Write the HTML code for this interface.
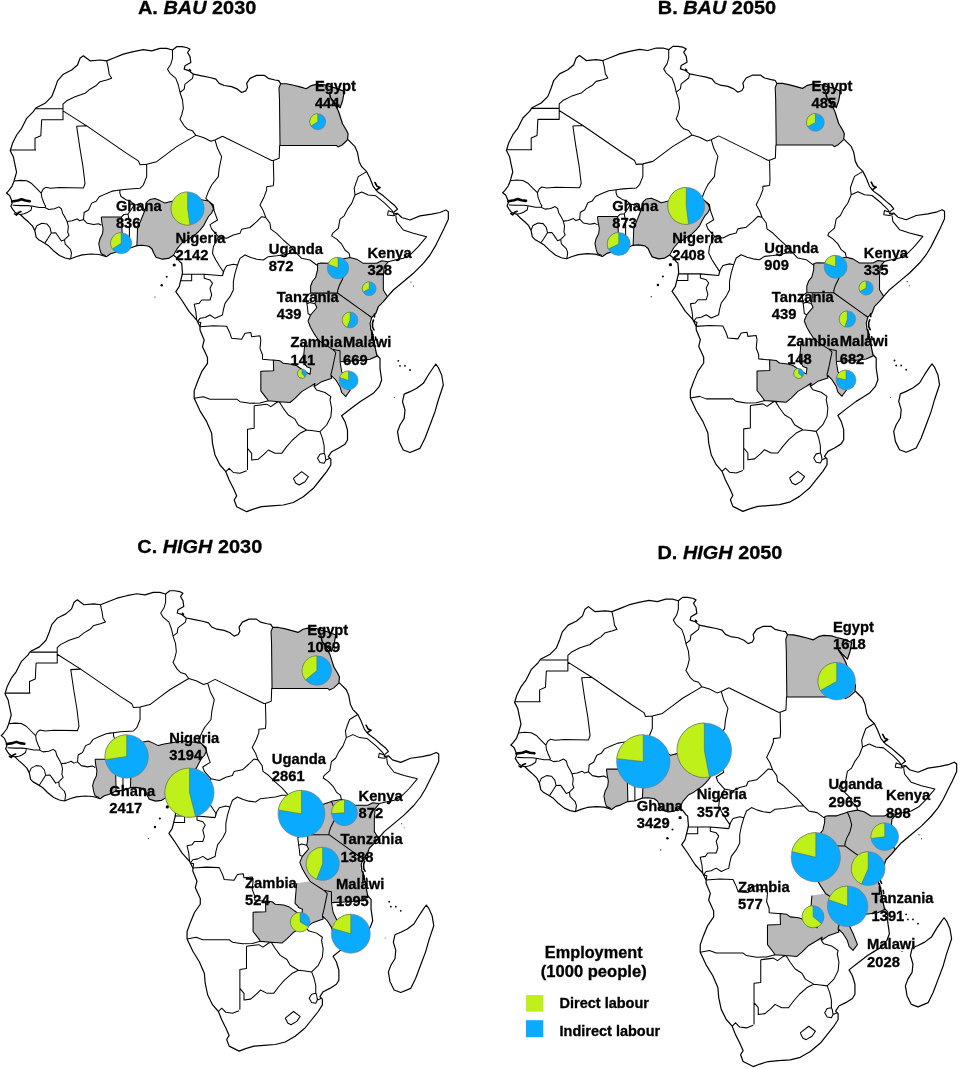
<!DOCTYPE html><html><head><meta charset="utf-8"><title>Employment maps</title>
<style>html,body{margin:0;padding:0;background:#fff}svg{display:block}text{font-family:"Liberation Sans",Arial,sans-serif;font-weight:bold;fill:#000;stroke:#000;stroke-width:0.3px}</style></head><body>
<svg width="960" height="1069" viewBox="0 0 960 1069">
<rect width="960" height="1069" fill="#fff"/>
<defs><g id="afr">
<path d="M160 48.33 L151.67 50.83 L143.33 49.67 L133.33 51.67 L123.33 54.17 L115 57.5 L106.67 60.83 L100 60 L90 60.83 L83.33 55.83 L80 58.33 L77.5 65 L71.67 70 L63.33 74.17 L57.5 80.83 L55 88.33 L51.67 96.67 L45 103.33 L35.83 108 L33.33 111.67 L26.67 118.33 L21.67 128.33 L16.67 135 L12.5 143.33 L10.25 150.71 L13.41 157.02 L14.67 163.33 L16.57 172.17 L14.04 181.01 L12.15 186.06 L8.36 191.11 L6.46 193.01 L9.62 195.53 L11.52 199.95 L12.15 203.11 L10.88 206.26 L12.78 209.42 L14.67 211.94 L17.2 213.59 L20.35 214.47 L24.14 218.26 L28.56 222.05 L32.35 225.83 L34.87 230.88 L36.14 237.2 L38.66 239.72 L43.08 242.25 L48.13 245.4 L53.18 250.45 L59.49 255.51 L65.18 258.03 L70.23 259.04 L75.91 256.77 L82.22 254.87 L91.06 253.99 L98.64 254.49 L101.79 255.25 L106.21 256.77 L110.6 253.75 L115 252.5 L118 251 L122.5 249 L129.4 248.3 L131.7 247.5 L136.9 245.6 L142.5 245.25 L148.75 246.25 L151.9 248.75 L153.6 252.8 L156 257.2 L162.3 259.2 L168.5 258.4 L173.5 255.3 L177 258 L180 262 L181.7 263.3 L182.5 273.33 L180.83 280 L179.17 286.67 L175.83 291.67 L181.67 300 L189.17 311.67 L196.67 320 L200 326.67 L200 330 L204.17 340 L202.5 346.67 L207.5 357.5 L207.5 363.33 L201.67 371.67 L197.5 381.67 L194.17 390.83 L194.17 398.33 L200 410.83 L206.67 421.67 L211.67 433.33 L212.5 443.33 L215 455 L220 465 L225.83 471.67 L229.17 480 L233.33 488.33 L236.67 495.83 L234.17 500 L236.67 506.67 L241.67 509.17 L246.67 511.67 L253.33 509.17 L261.67 506.67 L271.67 505.83 L283.33 505 L293.33 502.5 L303.33 496.67 L313.33 488.33 L320 480 L326.67 471.67 L330.83 465 L330.83 459.17 L328.33 456.67 L331.67 451.67 L338.33 448.33 L345 444.17 L347.5 440 L347.5 430 L345 421.67 L341.67 415.83 L350 409.17 L360 401.67 L366.67 397.5 L373.33 393.33 L379.17 386.67 L381.67 380 L380 368.33 L380 358.33 L377.5 355.83 L376.67 355 L375 346.67 L373.33 336.67 L371.67 330 L371.67 340 L373.33 335 L370.83 330 L370 323.33 L371.67 317.5 L375.83 313.33 L378.33 306.67 L383.33 301.67 L387.5 296.67 L393.33 290 L403.33 281.67 L413.33 273.33 L423.33 263.33 L430 255 L435 246.67 L440 236.67 L444.17 228.33 L448.33 219.17 L448.33 211.67 L445.83 210 L440 212.5 L431.67 214.17 L420 215.83 L410 220 L401.67 217.5 L397.5 213.33 L393.33 214.17 L394.17 211.67 L397.5 209.17 L395 205.83 L390 201.67 L383.33 195.83 L377.5 191.67 L373.33 186.67 L373.33 186.67 L370 178.33 L366.67 171.67 L361.67 166.67 L359.17 161.67 L357.5 152.5 L355 146.67 L347.5 139.17 L348.1 133.75 L346.25 130 L342.5 123.75 L338.5 111.2 L336 106.2 L331 98.8 L329.4 92 L330.2 97.2 L334.4 102.1 L340.1 107.9 L342.6 100.5 L344.3 91.4 L336 88.1 L329.4 86.4 L324.4 84.8 L316.25 84.4 L311.25 85.6 L306.25 88.75 L300 86.9 L292.5 85 L286.25 83.75 L280.6 83.6 L278.75 80.6 L275 80 L268.33 78.33 L264.17 75.33 L256.67 75.33 L250 78.33 L246.67 83.33 L247.5 87.5 L245.83 90.83 L241.67 92.5 L237.5 89.17 L231.67 86.67 L224.17 85.5 L219.17 83.33 L215.83 79.17 L210 77.5 L201.67 75.83 L193.33 74.17 L189.17 70.83 L184.17 69.17 L185 65.83 L190.83 62.5 L190 56.67 L187.5 52.5 L190 49.17 L186.67 47.5 L181.67 46.67 L176.67 46.67 L172.5 50 L166.67 48.33 L160 48.33Z" fill="#fff" stroke="none"/>
<path d="M280.6 83.75 L286 83.75 L292.5 85 L300 86.9 L306 88.75 L311 85.6 L316 84.4 L324.4 84.8 L329.4 86.4 L336 88.1 L344.3 91.4 L342.6 100.5 L340.1 107.9 L334.4 102.1 L330.2 97.2 L329.4 92 L331 98.8 L336 106.2 L338.5 111.2 L342.5 123.75 L346.25 130 L348.1 133.75 L346.9 138 L347.5 140 L342 145 L338 147 L336.5 145.4 L280 145.4 L279.5 100 L279 88Z" fill="#b9b9b9" stroke="none"/>
<path d="M101.25 216.9 L101.9 222.5 L103.1 228.75 L102.5 233.75 L100 238.75 L98.75 243.75 L100 250 L101.25 253.75 L105.6 255.8 L110.6 253.75 L115 252.5 L118 251 L122.5 249 L122 230 L121.5 216.9Z" fill="#b9b9b9" stroke="none"/>
<path d="M136.9 245.6 L137.25 237.5 L137.5 228.75 L140 222.5 L142.5 216.25 L145 210 L146.9 201.9 L150 199.4 L155 198.5 L160 200.6 L165 203.1 L171 201.5 L180 200 L190 198.5 L200 199.5 L208.5 200.9 L212.3 205.3 L213.5 209 L211.7 212.8 L208.5 216.5 L206 220.9 L203.5 225.9 L199.8 230.3 L196 234 L192.3 236.5 L187.3 240 L182.4 242.5 L177.4 248.3 L173.5 255.3 L168.5 258.4 L162.3 259.2 L156 257.2 L153.6 252.8 L151.9 248.75 L148.75 246.25 L142.5 245.25 L136.9 245.6Z" fill="#b9b9b9" stroke="none"/>
<path d="M317.5 263.75 L321 263 L329.4 263.2 L339.3 259.9 L340 259.4 L342.6 265.6 L344.3 272.2 L342.6 278.9 L339.3 285.5 L337.7 290.4 L337.5 293 L316 293.3 L310.6 293.1 L310.62 286.25 L312.5 281.25 L315.62 277.5 L317.5 270 L317.5 263.75Z" fill="#b9b9b9" stroke="none"/>
<path d="M340 259.4 L350 257.5 L356.67 259.17 L363.33 263.33 L376.67 263.33 L381.67 260.83 L388.33 261.67 L384.17 266.67 L383.33 276.67 L383.33 290 L387.5 296.67 L383.33 301.67 L378.33 306.67 L375.83 313.33 L371.67 317.5 L360 309.17 L337.5 293 L337.7 290.4 L339.3 285.5 L342.6 278.9 L344.3 272.2 L342.6 265.6 L340 259.4Z" fill="#b9b9b9" stroke="none"/>
<path d="M316 293.3 L337.5 293 L360 309.17 L371.67 317.5 L369.38 321.25 L369.38 327.5 L372.5 332.5 L373.12 338.75 L375 346.25 L376.88 352.5 L379.38 356.88 L370 359.2 L358.3 360.8 L340 361.7 L340 350.8 L335.8 350 L332.5 349.2 L331.8 348.9 L318.3 340.2 L317.5 338.75 L313.75 333.1 L310.6 327.5 L308 321 L310.6 315 L313.75 311.25 L316.9 307.5 L315 303.75 L316 298 L316 293.3Z" fill="#b9b9b9" stroke="none"/>
<path d="M273.3 360 L280 360.8 L283.3 363.3 L291.7 364.2 L296.7 365.8 L301.7 369.2 L305 371.7 L310 374.2 L310.8 368.3 L306.7 366.7 L306.5 365.8 L303.2 362.4 L304 352.3 L304.9 342.2 L318.3 340.2 L331.8 348.9 L332.5 349.2 L335.8 352.5 L334.2 360 L332.5 368.3 L330.8 375 L331.7 378.3 L321.7 381.7 L314.2 386.7 L310 386.7 L301.7 391.7 L295 398.3 L290 402.5 L279.2 401.7 L268.3 400.8 L266.7 398.3 L260.8 390.8 L260.8 371.3 L273.7 370.8Z" fill="#b9b9b9" stroke="none"/>
<path d="M332.5 349.2 L335.8 352.5 L334.2 360 L332.5 368.3 L330.8 375 L335.8 380 L340 386.7 L341.7 392.5 L345.8 396.7 L346.7 395 L350 390.8 L345.8 380 L341.7 371.7 L339.2 361.7 L340 350.8 L335.8 350Z" fill="#b9b9b9" stroke="none"/>
<path d="M106.67 60.83 L108.33 68.33 L109.17 74.17 L111.67 78.33 L106.67 80 L100 81.67 L95.83 85.83 L90 89.17 L85 93.33 L75 96.67 L66.67 100.83 L63 104.17 L63 108.67 M35.83 108.67 L63 108.67 M63 108.67 L63 119.67 L41.67 119.67 L40.83 135.83 L35 138.33 L35 149.17 L35.51 150.08 L10.25 150.08 M63 110.83 L86.67 125.83 M86.67 125.83 L76.67 126.33 L79.7 146.92 L82.85 165.86 L85 183.54 L83.48 187.95 L59.49 187.58 L50.66 188.33 L45.61 187.32 L43.08 189.22 L41.19 193.01 M86.67 125.83 L126.67 153.33 L138.33 160.83 L140 164.67 L146.67 164.17 M146.67 164.17 L146.67 176.67 L143.33 185 L143.33 185 L140 188.33 L126.67 189.17 L120 190 M146.67 164.17 L156.67 161.67 L160 159.17 L166.67 154.17 L176.67 146.67 L195.83 135.33 M14.04 181.01 L20.35 180.38 L26.67 180.76 L31.72 183.54 L36.77 188.59 L41.19 193.01 M41.19 193.01 L41.82 197.42 L43.71 202.47 L45.61 206.26 L44.97 207.53 M44.97 207.53 L39.29 207.53 L32.98 206.26 L27.93 205.63 L20.35 205.63 L12.78 205.25 M31.72 206.52 L31.09 210.05 L27.3 212.58 L24.14 213.84 L20.35 214.47 M44.97 207.53 L48.76 209.42 L54.44 208.79 L58.86 206.89 L61.39 208.79 L62.65 213.21 L65.18 217.63 L67.07 221.41 M34.87 230.25 L36.77 225.83 L41.82 223.31 L46.87 223.94 L50.03 227.73 L51.29 233.03 L47.5 239.09 L44.97 242.88 M51.29 233.03 L55.71 232.78 L58.86 237.2 L61.39 240.98 L64.55 239.72 M67.07 221.41 L68.33 226.46 L67.7 232.15 L68.96 235.3 L65.81 238.46 L64.55 239.72 M64.55 239.72 L65.18 244.14 L70.23 249.19 L71.49 252.98 L70.61 259.04 M67.07 221.41 L72.12 220.78 L77.17 218.89 L79.7 220.78 L83.48 219.52 M83.48 219.52 L84.12 212.58 L88.54 210.05 L91.69 203.11 L96.11 201.21 L99.27 196.79 L106.21 193.64 L112.53 191.11 L116.31 190.48 L120 190 M83.48 219.52 L87.27 223.31 L93.59 224.57 L98.64 223.69 L101.41 225.2 M120 190 L119.8 192.8 L121 196.5 L126 199.7 L131 201.5 L134 205 M101.25 216.9 L121.5 216.9 L124 214.5 L128 214 L131 210 L134 205 M134 205 L139 204.5 L143 208 L145 210 M121.5 216.9 L122 230 L122.5 249 M128 214 L129.4 222 L129.4 248.3 M172.5 50 L172.5 58.33 L170.83 64.17 L167.5 69.17 L170 73.33 L175.83 78.33 L178.33 85 L180 92.5 M193.33 74.17 L192.5 78.33 L185 84.17 L184.17 89.17 L180 92.5 M180 92.5 L182.5 100 L183.33 108.33 L181.67 115 L180 119.17 L184.17 125.83 L187.5 129.17 L192.5 130.83 L195.83 135.33 M195.83 135.33 L203.33 137.5 L210.83 141.33 L215 140 L222.5 136.17 M222.5 136.17 L271.67 160.5 L273.33 160.5 L279.17 158.33 L279.67 145 M280.6 83.75 L279 88 L279.5 100 L280 145.4 M280 145.4 L336.5 145.4 L338 147 L342 145 L347.5 140 M215 140 L217.5 148.33 L221.67 156.67 L219.17 168.33 L218.33 176.67 L211.67 185 L208.33 191.67 L205.83 198.33 L208.33 200.83 M273.33 160.5 L273.83 180 L273.33 185.83 L266.67 186.67 L266.67 190 L264.17 196.67 L260 205 L263.33 210.83 L265.83 217.5 M366.67 171.67 L358.33 176.67 L355.83 183.33 L354.17 188.33 L355 195 M208.33 200.83 L213.33 205 L214.17 210.83 L217.5 220 L210 224.67 L211.67 229.17 L218.33 236.67 M218.33 236.67 L226.67 238.33 L233.33 235 L240 233.33 L241.67 229.17 L250 227.5 L256.67 221.67 L261.67 216.67 L265.83 217.5 M265.83 217.5 L270 223.33 L270.83 229.17 L276.67 233.33 L283.33 240 L290 245.83 L296.67 253.33 L301.67 258.33 L310 260 L316.67 265 L318.33 265.33 M218.33 236.67 L213.33 246.67 L212.5 253.33 L215.83 260 L220 266.67 L223.33 271.67 L222.5 275.83 M181.67 274.17 L191.67 274.17 L204.17 274.17 L222.5 275.83 M191.67 274.17 L191.67 280.83 L180.83 280.83 M222.5 275.83 L224.17 270 L226.67 265.83 L233.33 264.17 L237.5 265 L240 258.33 L245 255 L250.83 257.5 L256.67 259.17 L263.33 260 L268.33 256.67 L276.67 255.83 L283.33 255 L290 253.33 L296.67 253.33 M237.5 265 L235 273.33 L233.33 281.67 L233.33 290 L230 296.67 L225 303.33 L223.33 310 L222.5 315 L215 318.33 L210 315 L205 317.5 L200 318.33 L197.5 321.67 M204.17 274.17 L204.17 278.33 L210 280 L212.5 283.33 L210 288.33 L211.67 295 L210 300 L201.67 300 L199.17 303.33 L194.17 304.17 L195.83 311.67 L196.67 320 M200 326.67 L213.33 325.83 L226.67 326.33 L230 333.33 L231.67 338.33 L241.67 339.17 L245 333.33 L250.83 332.5 L251.67 336.67 L260 335.83 L260.83 340 L260 348.33 L262.5 355 L262.5 359.17 L270.83 360 L273.33 360 M197.5 321.67 L200.83 322.5 L200 326.67 M355 195 L361.67 192 L368.33 195 L375.83 195.83 L385 203.33 L391.67 210 L393.33 212.5 M355 195 L351.67 203.33 L347.5 209.17 L344.17 215.83 L340 219.17 L338.33 228.33 L332.5 233.33 L331.67 235.83 L336.67 239.17 L341.67 244.17 L345 250 L349.17 253.33 L350 257.5 M393.33 212.5 L388.33 210.83 L387.5 215 L393.33 215.83 L397.5 214.17 M395.83 215.83 L396.67 221.67 L403.33 230 L413.33 233.33 L426.67 236.67 L418.33 246.67 L410.83 254.17 L403.33 258.33 L395 260 L388.33 261.67 M350 257.5 L356.67 259.17 L363.33 263.33 L376.67 263.33 L381.67 260.83 L388.33 261.67 M388.33 261.67 L384.17 266.67 L383.33 276.67 L383.33 290 L387.5 296.67 M350 257.5 L340 259.4 L340 259.4 L339.3 259.9 L329.4 263.2 L321 263 L317.5 263.75 M340 259.4 L342.6 265.6 L344.3 272.2 L342.6 278.9 L339.3 285.5 L337.7 290.4 L337.5 293 M337.5 293 L360 309.17 L371.67 317.5 M273.33 360 L273.67 370.83 L260.83 371.33 L260.83 390.83 L266.67 398.33 L268.33 400.83 M194.17 398.33 L203.33 396.67 L210 399.17 L236.67 399.17 L240 401.67 L250 403.33 L260 403 L268.33 400.83 L279.17 401.67 M254.17 405.83 L266.67 404.17 L270.83 406.67 L276.67 402.5 L279.17 401.67 M254.17 405.83 L254.17 428.33 L247.5 429.17 L247.5 446.67 L247.5 470 M225.83 471.67 L229.17 468.33 L233.33 472.5 L240 473.33 L246.67 470.83 M247.5 448.33 L251.67 453.33 L251.67 460 L258.33 459.17 L264.17 454.17 L268.33 450 L275 453.33 L281.67 453.33 L286.67 446.67 L292.5 440 L300 433.33 L306.67 430 M279.17 401.67 L283.33 408.33 L288.33 415 L295 419.17 L298.33 425 L306.67 430 M306.67 430 L313.33 430.83 L320 431.67 M320 431.67 L326.67 425 L330.83 416.67 L331.67 408.33 L330 400 L330.83 396.67 L325 392.5 L316.67 390 L314.17 386.67 M320 431.67 L322.5 438.33 L324.17 445.83 L324.17 453.33 M324.17 453.33 L320 454.17 L317.5 458.33 L320 462.5 L324.17 463.33 L325.83 460 L325 455 L324.17 453.33 M325.83 460 L330 458.33 M293.33 478.33 L301.67 471.67 L308.33 476.67 L305 481.67 L299.17 485 L295.83 483.33 L293.33 478.33 M279.17 401.67 L290 402.5 L295 398.33 L301.67 391.67 L310 386.67 L315 383.33 L314.17 386.67 M314.17 386.67 L321.67 381.67 L331.67 378.33 L330.83 375 M273.3 360 L280 360.8 L283.3 363.3 L291.7 364.2 L296.7 365.8 L301.7 369.2 L305 371.7 L310 374.2 L310.8 368.3 L306.7 366.7 L306.5 365.8 L303.2 362.4 L304 352.3 L304.9 342.2 M377.5 355.8 L370 359.2 L358.3 360.8 L340 361.7 M330.8 375 L335.8 380 L340 386.7 L341.7 392.5 L345.8 396.7 M340 361.7 L341.7 371.7 L345.8 380 L350 390.8 L346.7 395 L345.8 396.7 M332.5 349.2 L335.8 352.5 L334.2 360 L332.5 368.3 L330.8 375 M310.6 293.1 L306 296 L306.9 303.75 L307.5 307.5 L308.1 313.75 L310.6 315 M306.9 303.75 L310 302.5 L315 303.75 M308 321 L310.6 327.5 L313.75 333.1 L317.5 338.75 L318.3 340.2 M317.5 263.75 L317.5 270 L315.6 277.5 L312.5 281.25 L310.6 286.25 L310.6 293.1 M340 361.7 L340 350.8 L335.8 350 L332.5 349.2 M310.6 293.1 L337.5 293 M136.9 245.6 L137.25 237.5 L137.5 228.75 L140 222.5 L142.5 216.25 L145 210 L146.9 201.9 M146.9 201.9 L150 199.4 L155 198.5 L160 200.6 L165 203.1 L171 201.5 L180 200 L190 198.5 L200 199.5 L208.5 200.9 M208.5 200.9 L212.3 205.3 L213.5 209 L211.7 212.8 L208.5 216.5 L206 220.9 L203.5 225.9 L199.8 230.3 L196 234 L192.3 236.5 L187.3 240 L182.4 242.5 L177.4 248.3 L173.5 255.3 M101.25 216.9 L101.9 222.5 L103.1 228.75 L102.5 233.75 L100 238.75 L98.75 243.75 L100 250 L101.25 253.75 L105.6 255.8 M316 293.3 L316 298 L315 303.75 L316.9 307.5 L313.75 311.25 L310.6 315 L308 321 M318.3 340.2 L331.8 348.9 L332.5 349.2" fill="none" stroke="#000" stroke-width="1.05" stroke-linejoin="round"/>
<path d="M160 48.33 L151.67 50.83 L143.33 49.67 L133.33 51.67 L123.33 54.17 L115 57.5 L106.67 60.83 L100 60 L90 60.83 L83.33 55.83 L80 58.33 L77.5 65 L71.67 70 L63.33 74.17 L57.5 80.83 L55 88.33 L51.67 96.67 L45 103.33 L35.83 108 L33.33 111.67 L26.67 118.33 L21.67 128.33 L16.67 135 L12.5 143.33 L10.25 150.71 L13.41 157.02 L14.67 163.33 L16.57 172.17 L14.04 181.01 L12.15 186.06 L8.36 191.11 L6.46 193.01 L9.62 195.53 L11.52 199.95 L12.15 203.11 L10.88 206.26 L12.78 209.42 L14.67 211.94 L17.2 213.59 L20.35 214.47 L24.14 218.26 L28.56 222.05 L32.35 225.83 L34.87 230.88 L36.14 237.2 L38.66 239.72 L43.08 242.25 L48.13 245.4 L53.18 250.45 L59.49 255.51 L65.18 258.03 L70.23 259.04 L75.91 256.77 L82.22 254.87 L91.06 253.99 L98.64 254.49 L101.79 255.25 L106.21 256.77 L110.6 253.75 L115 252.5 L118 251 L122.5 249 L129.4 248.3 L131.7 247.5 L136.9 245.6 L142.5 245.25 L148.75 246.25 L151.9 248.75 L153.6 252.8 L156 257.2 L162.3 259.2 L168.5 258.4 L173.5 255.3 L177 258 L180 262 L181.7 263.3 L182.5 273.33 L180.83 280 L179.17 286.67 L175.83 291.67 L181.67 300 L189.17 311.67 L196.67 320 L200 326.67 L200 330 L204.17 340 L202.5 346.67 L207.5 357.5 L207.5 363.33 L201.67 371.67 L197.5 381.67 L194.17 390.83 L194.17 398.33 L200 410.83 L206.67 421.67 L211.67 433.33 L212.5 443.33 L215 455 L220 465 L225.83 471.67 L229.17 480 L233.33 488.33 L236.67 495.83 L234.17 500 L236.67 506.67 L241.67 509.17 L246.67 511.67 L253.33 509.17 L261.67 506.67 L271.67 505.83 L283.33 505 L293.33 502.5 L303.33 496.67 L313.33 488.33 L320 480 L326.67 471.67 L330.83 465 L330.83 459.17 L328.33 456.67 L331.67 451.67 L338.33 448.33 L345 444.17 L347.5 440 L347.5 430 L345 421.67 L341.67 415.83 L350 409.17 L360 401.67 L366.67 397.5 L373.33 393.33 L379.17 386.67 L381.67 380 L380 368.33 L380 358.33 L377.5 355.83 L376.67 355 L375 346.67 L373.33 336.67 L371.67 330 L371.67 340 L373.33 335 L370.83 330 L370 323.33 L371.67 317.5 L375.83 313.33 L378.33 306.67 L383.33 301.67 L387.5 296.67 L393.33 290 L403.33 281.67 L413.33 273.33 L423.33 263.33 L430 255 L435 246.67 L440 236.67 L444.17 228.33 L448.33 219.17 L448.33 211.67 L445.83 210 L440 212.5 L431.67 214.17 L420 215.83 L410 220 L401.67 217.5 L397.5 213.33 L393.33 214.17 L394.17 211.67 L397.5 209.17 L395 205.83 L390 201.67 L383.33 195.83 L377.5 191.67 L373.33 186.67 L373.33 186.67 L370 178.33 L366.67 171.67 L361.67 166.67 L359.17 161.67 L357.5 152.5 L355 146.67 L347.5 139.17 L348.1 133.75 L346.25 130 L342.5 123.75 L338.5 111.2 L336 106.2 L331 98.8 L329.4 92 L330.2 97.2 L334.4 102.1 L340.1 107.9 L342.6 100.5 L344.3 91.4 L336 88.1 L329.4 86.4 L324.4 84.8 L316.25 84.4 L311.25 85.6 L306.25 88.75 L300 86.9 L292.5 85 L286.25 83.75 L280.6 83.6 L278.75 80.6 L275 80 L268.33 78.33 L264.17 75.33 L256.67 75.33 L250 78.33 L246.67 83.33 L247.5 87.5 L245.83 90.83 L241.67 92.5 L237.5 89.17 L231.67 86.67 L224.17 85.5 L219.17 83.33 L215.83 79.17 L210 77.5 L201.67 75.83 L193.33 74.17 L189.17 70.83 L184.17 69.17 L185 65.83 L190.83 62.5 L190 56.67 L187.5 52.5 L190 49.17 L186.67 47.5 L181.67 46.67 L176.67 46.67 L172.5 50 L166.67 48.33 L160 48.33Z M435.83 364.17 L438.33 367.5 L441.67 375 L443.33 385 L440 395 L438.33 400 L435 411.67 L430 425 L425 438.33 L420 448.33 L410 452.5 L403.33 450 L399.17 441.67 L397.5 431.67 L400 425 L404.17 418.33 L405 410 L402.5 401.67 L404.17 394.17 L410 391.67 L416.67 388.33 L423.33 383.33 L428.33 375 L433.33 367.5Z" fill="none" stroke="#000" stroke-width="1.2" stroke-linejoin="round"/>
<circle cx="174.2" cy="265" r="1.6" fill="#000"/>
<circle cx="166.7" cy="276.7" r="1.0" fill="#000"/>
<circle cx="161.7" cy="285.3" r="1.2" fill="#000"/>
<circle cx="155" cy="297" r="0.6" fill="#000"/>
<circle cx="398.3" cy="360.8" r="0.9" fill="#000"/>
<circle cx="400" cy="365.8" r="0.9" fill="#000"/>
<circle cx="405" cy="365.8" r="0.9" fill="#000"/>
<circle cx="410" cy="370" r="0.9" fill="#000"/>
<circle cx="394.2" cy="397.5" r="0.5" fill="#000"/>
<circle cx="411" cy="282" r="0.6" fill="#000"/>
<circle cx="413.5" cy="286" r="0.5" fill="#000"/>
<path d="M14.67 213.84 L16.57 215.1 L18.46 212.58 L20.98 211.57 M375 182.5 L377 186.25 L380 187.5 L376.25 190 M373.5 320 L372.5 323 L372.5 327 L374 330 M374.5 314 L374.5 317 M375.5 337 L376 340 M189.5 69.5 L190.5 70.5" fill="none" stroke="#000" stroke-width="1.6" stroke-linecap="round" stroke-linejoin="round"/>
<path d="M12.15 201.46 L17.83 200.58 L21.62 199.32 L25.4 200.58 L29.82 201.21" fill="none" stroke="#000" stroke-width="2.6" stroke-linecap="round" stroke-linejoin="round"/>
</g></defs>
<use href="#afr" transform="translate(0 0) scale(1)"/>
<use href="#afr" transform="translate(496.2 -0.3) scale(1)"/>
<use href="#afr" transform="translate(-5.15 544.55) scale(0.99)"/>
<use href="#afr" transform="translate(504.3 550.3) scale(1.009)"/>
<circle cx="317.75" cy="121.75" r="8" fill="#0aaaff" stroke="#8a6a6a" stroke-width="0.5"/><path d="M317.75 121.75 L317.75 113.75 A8 8 0 0 0 311.00 126.04Z" fill="#c0f01a" stroke="#444" stroke-width="0.4"/>
<circle cx="187.6" cy="208.5" r="16.6" fill="#0aaaff" stroke="#8a6a6a" stroke-width="0.5"/><path d="M187.6 208.5 L187.6 191.9 A16.6 16.6 0 1 0 189.99 224.93Z" fill="#c0f01a" stroke="#444" stroke-width="0.4"/>
<circle cx="121.25" cy="243.25" r="10.6" fill="#0aaaff" stroke="#8a6a6a" stroke-width="0.5"/><path d="M121.25 243.25 L121.25 232.65 A10.6 10.6 0 0 0 112.30 248.93Z" fill="#c0f01a" stroke="#444" stroke-width="0.4"/>
<circle cx="338" cy="268.1" r="10.75" fill="#0aaaff" stroke="#8a6a6a" stroke-width="0.5"/><path d="M338 268.1 L338 257.35 A10.75 10.75 0 0 0 328.00 264.14Z" fill="#c0f01a" stroke="#444" stroke-width="0.4"/>
<circle cx="369.25" cy="288.75" r="6.9" fill="#0aaaff" stroke="#8a6a6a" stroke-width="0.5"/><path d="M369.25 288.75 L369.25 281.85 A6.9 6.9 0 0 0 363.20 292.07Z" fill="#c0f01a" stroke="#444" stroke-width="0.4"/>
<circle cx="350.1" cy="320" r="7.9" fill="#0aaaff" stroke="#8a6a6a" stroke-width="0.5"/><path d="M350.1 320 L350.1 312.1 A7.9 7.9 0 0 0 347.19 327.35Z" fill="#c0f01a" stroke="#444" stroke-width="0.4"/>
<circle cx="302" cy="373.6" r="4.6" fill="#0aaaff" stroke="#8a6a6a" stroke-width="0.5"/><path d="M302 373.6 L302 369.0 A4.6 4.6 0 1 0 305.15 376.95Z" fill="#c0f01a" stroke="#444" stroke-width="0.4"/>
<circle cx="348.6" cy="380.4" r="9.5" fill="#0aaaff" stroke="#8a6a6a" stroke-width="0.5"/><path d="M348.6 380.4 L348.6 370.9 A9.5 9.5 0 0 0 339.56 377.46Z" fill="#c0f01a" stroke="#444" stroke-width="0.4"/>
<text transform="translate(314.9 90.6) scale(1.032 1)" font-size="14.3">Egypt</text><text transform="translate(314.9 108.1) scale(1.032 1)" font-size="14.3">444</text>
<text transform="translate(115.9 210.6) scale(1.032 1)" font-size="14.3">Ghana</text><text transform="translate(115.9 228.1) scale(1.032 1)" font-size="14.3">836</text>
<text transform="translate(175.55 243.1) scale(1.032 1)" font-size="14.3">Nigeria</text><text transform="translate(175.55 260) scale(1.032 1)" font-size="14.3">2142</text>
<text transform="translate(268.8 253.75) scale(1.032 1)" font-size="14.3">Uganda</text><text transform="translate(268.8 270.75) scale(1.032 1)" font-size="14.3">872</text>
<text transform="translate(367.4 257.5) scale(1.032 1)" font-size="14.3">Kenya</text><text transform="translate(367.4 275) scale(1.032 1)" font-size="14.3">328</text>
<text transform="translate(276.8 302) scale(1.032 1)" font-size="14.3">Tanzania</text><text transform="translate(276.8 319) scale(1.032 1)" font-size="14.3">439</text>
<text transform="translate(290.55 347) scale(1.032 1)" font-size="14.3">Zambia</text><text transform="translate(290.55 364.5) scale(1.032 1)" font-size="14.3">141</text>
<text transform="translate(343.05 347) scale(1.032 1)" font-size="14.3">Malawi</text><text transform="translate(343.05 364.5) scale(1.032 1)" font-size="14.3">669</text>
<text transform="translate(138 13.7) scale(1.053 1)" font-size="18.9">A. <tspan font-style="italic">BAU</tspan> 2030</text>
<circle cx="815.4" cy="122.4" r="8.9" fill="#0aaaff" stroke="#8a6a6a" stroke-width="0.5"/><path d="M815.4 122.4 L815.4 113.5 A8.9 8.9 0 0 0 807.60 126.69Z" fill="#c0f01a" stroke="#444" stroke-width="0.4"/>
<circle cx="686.25" cy="205.9" r="18.5" fill="#0aaaff" stroke="#8a6a6a" stroke-width="0.5"/><path d="M686.25 205.9 L686.25 187.4 A18.5 18.5 0 1 0 688.57 224.25Z" fill="#c0f01a" stroke="#444" stroke-width="0.4"/>
<circle cx="618.75" cy="244" r="11.5" fill="#0aaaff" stroke="#8a6a6a" stroke-width="0.5"/><path d="M618.75 244 L618.75 232.5 A11.5 11.5 0 0 0 608.34 248.90Z" fill="#c0f01a" stroke="#444" stroke-width="0.4"/>
<circle cx="835.6" cy="266.75" r="11.5" fill="#0aaaff" stroke="#8a6a6a" stroke-width="0.5"/><path d="M835.6 266.75 L835.6 255.25 A11.5 11.5 0 0 0 824.66 263.20Z" fill="#c0f01a" stroke="#444" stroke-width="0.4"/>
<circle cx="866.1" cy="288.1" r="7.1" fill="#0aaaff" stroke="#8a6a6a" stroke-width="0.5"/><path d="M866.1 288.1 L866.1 281.0 A7.1 7.1 0 0 0 859.88 291.52Z" fill="#c0f01a" stroke="#444" stroke-width="0.4"/>
<circle cx="847.4" cy="319.1" r="8.2" fill="#0aaaff" stroke="#8a6a6a" stroke-width="0.5"/><path d="M847.4 319.1 L847.4 310.90000000000003 A8.2 8.2 0 0 0 844.87 326.90Z" fill="#c0f01a" stroke="#444" stroke-width="0.4"/>
<circle cx="798.75" cy="373.4" r="5" fill="#0aaaff" stroke="#8a6a6a" stroke-width="0.5"/><path d="M798.75 373.4 L798.75 368.4 A5 5 0 1 0 802.39 376.82Z" fill="#c0f01a" stroke="#444" stroke-width="0.4"/>
<circle cx="846" cy="380" r="10" fill="#0aaaff" stroke="#8a6a6a" stroke-width="0.5"/><path d="M846 380 L846 370 A10 10 0 0 0 836.31 377.51Z" fill="#c0f01a" stroke="#444" stroke-width="0.4"/>
<text transform="translate(811.55 90.6) scale(1.032 1)" font-size="14.3">Egypt</text><text transform="translate(811.55 108.1) scale(1.032 1)" font-size="14.3">485</text>
<text transform="translate(612.2 210.6) scale(1.032 1)" font-size="14.3">Ghana</text><text transform="translate(612.2 227.9) scale(1.032 1)" font-size="14.3">873</text>
<text transform="translate(672.2 242.5) scale(1.032 1)" font-size="14.3">Nigeria</text><text transform="translate(672.2 259.75) scale(1.032 1)" font-size="14.3">2408</text>
<text transform="translate(764.3 253) scale(1.032 1)" font-size="14.3">Uganda</text><text transform="translate(764.3 270.3) scale(1.032 1)" font-size="14.3">909</text>
<text transform="translate(863.8 257.5) scale(1.032 1)" font-size="14.3">Kenya</text><text transform="translate(863.8 274.75) scale(1.032 1)" font-size="14.3">335</text>
<text transform="translate(771.8 301.9) scale(1.032 1)" font-size="14.3">Tanzania</text><text transform="translate(771.8 319.4) scale(1.032 1)" font-size="14.3">439</text>
<text transform="translate(787.2 346.25) scale(1.032 1)" font-size="14.3">Zambia</text><text transform="translate(787.2 363.75) scale(1.032 1)" font-size="14.3">148</text>
<text transform="translate(839.7 346.25) scale(1.032 1)" font-size="14.3">Malawi</text><text transform="translate(839.7 363.75) scale(1.032 1)" font-size="14.3">682</text>
<text transform="translate(657.8 13.7) scale(1.053 1)" font-size="18.9">B. <tspan font-style="italic">BAU</tspan> 2050</text>
<circle cx="316.9" cy="670.6" r="14.75" fill="#0aaaff" stroke="#8a6a6a" stroke-width="0.5"/><path d="M316.9 670.6 L316.9 655.85 A14.75 14.75 0 0 0 305.53 680.00Z" fill="#c0f01a" stroke="#444" stroke-width="0.4"/>
<circle cx="126.7" cy="756.5" r="21.75" fill="#0aaaff" stroke="#8a6a6a" stroke-width="0.5"/><path d="M126.7 756.5 L126.7 734.75 A21.75 21.75 0 0 0 105.18 759.63Z" fill="#c0f01a" stroke="#444" stroke-width="0.4"/>
<circle cx="189.5" cy="792.7" r="24.6" fill="#0aaaff" stroke="#8a6a6a" stroke-width="0.5"/><path d="M189.5 792.7 L189.5 768.1 A24.6 24.6 0 1 0 195.62 816.53Z" fill="#c0f01a" stroke="#444" stroke-width="0.4"/>
<circle cx="301.5" cy="813.8" r="23.5" fill="#0aaaff" stroke="#8a6a6a" stroke-width="0.5"/><path d="M301.5 813.8 L301.5 790.3 A23.5 23.5 0 0 0 278.31 809.98Z" fill="#c0f01a" stroke="#444" stroke-width="0.4"/>
<circle cx="344.5" cy="812.7" r="13" fill="#0aaaff" stroke="#8a6a6a" stroke-width="0.5"/><path d="M344.5 812.7 L344.5 799.7 A13 13 0 0 0 331.53 813.52Z" fill="#c0f01a" stroke="#444" stroke-width="0.4"/>
<circle cx="322.7" cy="863.8" r="16.6" fill="#0aaaff" stroke="#8a6a6a" stroke-width="0.5"/><path d="M322.7 863.8 L322.7 847.1999999999999 A16.6 16.6 0 0 0 316.59 879.23Z" fill="#c0f01a" stroke="#444" stroke-width="0.4"/>
<circle cx="300.2" cy="922" r="9.8" fill="#0aaaff" stroke="#8a6a6a" stroke-width="0.5"/><path d="M300.2 922 L300.2 912.2 A9.8 9.8 0 1 0 308.70 926.88Z" fill="#c0f01a" stroke="#444" stroke-width="0.4"/>
<circle cx="350.8" cy="933.7" r="19.5" fill="#0aaaff" stroke="#8a6a6a" stroke-width="0.5"/><path d="M350.8 933.7 L350.8 914.2 A19.5 19.5 0 0 0 332.07 928.26Z" fill="#c0f01a" stroke="#444" stroke-width="0.4"/>
<text transform="translate(307.3 635) scale(1.032 1)" font-size="14.3">Egypt</text><text transform="translate(307.3 651.7) scale(1.032 1)" font-size="14.3">1069</text>
<text transform="translate(169.3 742.5) scale(1.032 1)" font-size="14.3">Nigeria</text><text transform="translate(169.3 760) scale(1.032 1)" font-size="14.3">3194</text>
<text transform="translate(109.3 795.8) scale(1.032 1)" font-size="14.3">Ghana</text><text transform="translate(109.3 813.3) scale(1.032 1)" font-size="14.3">2417</text>
<text transform="translate(271.8 764) scale(1.032 1)" font-size="14.3">Uganda</text><text transform="translate(271.8 781) scale(1.032 1)" font-size="14.3">2861</text>
<text transform="translate(358.5 800.8) scale(1.032 1)" font-size="14.3">Kenya</text><text transform="translate(358.5 817.5) scale(1.032 1)" font-size="14.3">872</text>
<text transform="translate(340.6 844.2) scale(1.032 1)" font-size="14.3">Tanzania</text><text transform="translate(340.6 861.7) scale(1.032 1)" font-size="14.3">1388</text>
<text transform="translate(336.0 889.2) scale(1.032 1)" font-size="14.3">Malawi</text><text transform="translate(336.0 905.8) scale(1.032 1)" font-size="14.3">1995</text>
<text transform="translate(245.1 888) scale(1.032 1)" font-size="14.3">Zambia</text><text transform="translate(245.1 905) scale(1.032 1)" font-size="14.3">524</text>
<text transform="translate(137.3 553.3) scale(1.053 1)" font-size="18.9">C. <tspan font-style="italic">HIGH</tspan> 2030</text>
<circle cx="836.7" cy="681.25" r="18.75" fill="#0aaaff" stroke="#8a6a6a" stroke-width="0.5"/><path d="M836.7 681.25 L836.7 662.5 A18.75 18.75 0 0 0 820.44 690.59Z" fill="#c0f01a" stroke="#444" stroke-width="0.4"/>
<circle cx="643.3" cy="761.5" r="26.75" fill="#0aaaff" stroke="#8a6a6a" stroke-width="0.5"/><path d="M643.3 761.5 L643.3 734.75 A26.75 26.75 0 0 0 616.70 758.65Z" fill="#c0f01a" stroke="#444" stroke-width="0.4"/>
<circle cx="704.3" cy="750.25" r="27.3" fill="#0aaaff" stroke="#8a6a6a" stroke-width="0.5"/><path d="M704.3 750.25 L704.3 722.95 A27.3 27.3 0 1 0 709.42 777.07Z" fill="#c0f01a" stroke="#444" stroke-width="0.4"/>
<circle cx="815.8" cy="857.25" r="24.7" fill="#0aaaff" stroke="#8a6a6a" stroke-width="0.5"/><path d="M815.8 857.25 L815.8 832.55 A24.7 24.7 0 0 0 791.76 851.56Z" fill="#c0f01a" stroke="#444" stroke-width="0.4"/>
<circle cx="884.75" cy="836.75" r="13.8" fill="#0aaaff" stroke="#8a6a6a" stroke-width="0.5"/><path d="M884.75 836.75 L884.75 822.95 A13.8 13.8 0 0 0 871.06 838.48Z" fill="#c0f01a" stroke="#444" stroke-width="0.4"/>
<circle cx="868.2" cy="868.6" r="16.9" fill="#0aaaff" stroke="#8a6a6a" stroke-width="0.5"/><path d="M868.2 868.6 L868.2 851.7 A16.9 16.9 0 0 0 861.49 884.11Z" fill="#c0f01a" stroke="#444" stroke-width="0.4"/>
<circle cx="813.1" cy="916.7" r="11" fill="#0aaaff" stroke="#8a6a6a" stroke-width="0.5"/><path d="M813.1 916.7 L813.1 905.7 A11 11 0 1 0 821.58 923.71Z" fill="#c0f01a" stroke="#444" stroke-width="0.4"/>
<circle cx="847.6" cy="906.3" r="20.3" fill="#0aaaff" stroke="#8a6a6a" stroke-width="0.5"/><path d="M847.6 906.3 L847.6 886.0 A20.3 20.3 0 0 0 828.42 899.66Z" fill="#c0f01a" stroke="#444" stroke-width="0.4"/>
<text transform="translate(833.0 631.7) scale(1.032 1)" font-size="14.3">Egypt</text><text transform="translate(833.0 648.7) scale(1.032 1)" font-size="14.3">1618</text>
<text transform="translate(636.8 810.8) scale(1.032 1)" font-size="14.3">Ghana</text><text transform="translate(636.8 827.5) scale(1.032 1)" font-size="14.3">3429</text>
<text transform="translate(696.8 799.2) scale(1.032 1)" font-size="14.3">Nigeria</text><text transform="translate(696.8 816.7) scale(1.032 1)" font-size="14.3">3573</text>
<text transform="translate(828.5 789.2) scale(1.032 1)" font-size="14.3">Uganda</text><text transform="translate(828.5 806.7) scale(1.032 1)" font-size="14.3">2965</text>
<text transform="translate(886.0 800.3) scale(1.032 1)" font-size="14.3">Kenya</text><text transform="translate(886.0 818) scale(1.032 1)" font-size="14.3">898</text>
<text transform="translate(738.05 891.7) scale(1.032 1)" font-size="14.3">Zambia</text><text transform="translate(738.05 909.2) scale(1.032 1)" font-size="14.3">577</text>
<text transform="translate(871.5 902.7) scale(1.032 1)" font-size="14.3">Tanzania</text><text transform="translate(871.5 920.5) scale(1.032 1)" font-size="14.3">1391</text>
<text transform="translate(867.1 949.3) scale(1.032 1)" font-size="14.3">Malawi</text><text transform="translate(867.1 967) scale(1.032 1)" font-size="14.3">2028</text>
<text transform="translate(657.5 558.8) scale(1.053 1)" font-size="18.9">D. <tspan font-style="italic">HIGH</tspan> 2050</text>
<text transform="translate(593.7 957.7) scale(1.045 1)" font-size="15.6" text-anchor="middle">Employment</text>
<text transform="translate(593.7 976.5) scale(1.064 1)" font-size="15.6" text-anchor="middle">(1000 people)</text>
<rect x="526" y="995" width="17.3" height="16.7" fill="#c0f01a"/>
<rect x="526" y="1020.2" width="17.3" height="17" fill="#0aaaff"/>
<text transform="translate(559.6 1008.1) scale(1.043 1)" font-size="13.9">Direct labour</text>
<text transform="translate(559.6 1035.8) scale(1.043 1)" font-size="13.9">Indirect labour</text>
</svg></body></html>
